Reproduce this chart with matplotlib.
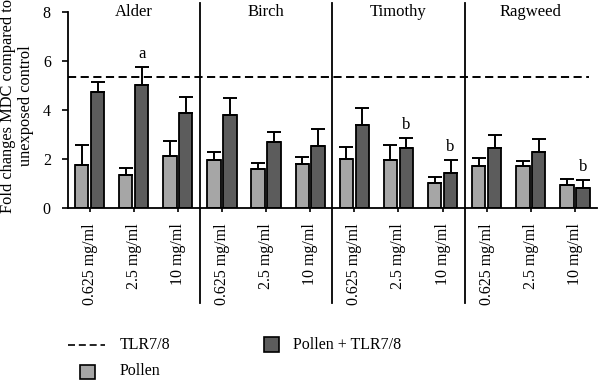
import matplotlib
matplotlib.use('Agg')
import matplotlib.pyplot as plt
import numpy as np
from matplotlib.patches import Rectangle
from matplotlib.lines import Line2D

plt.rcParams['font.family'] = ['Liberation Serif', 'DejaVu Serif']

# Данные
groups = ['Alder', 'Birch', 'Timothy', 'Ragweed']
doses = ['0.625 mg/ml', '2.5 mg/ml', '10 mg/ml']
pollen = [1.76, 1.32, 2.12, 1.93, 1.58, 1.77, 1.97, 1.93, 0.99, 1.71, 1.69, 0.91]
pollen_err = [0.80, 0.31, 0.60, 0.34, 0.24, 0.31, 0.49, 0.63, 0.26, 0.30, 0.23, 0.27]
pollen_tlr = [4.71, 4.99, 3.86, 3.80, 2.67, 2.52, 3.37, 2.42, 1.43, 2.45, 2.29, 0.82]
pollen_tlr_err = [0.42, 0.75, 0.66, 0.66, 0.42, 0.68, 0.68, 0.44, 0.53, 0.52, 0.51, 0.32]
tlr_level = 5.33
marks = {1: 'a', 7: 'b', 8: 'b', 11: 'b'}

light = '#a6a6a6'
dark = '#5c5c5c'
dash = (0, (4.2, 2.3))

fig = plt.figure(figsize=(6, 3.8), dpi=100)
ax = fig.add_axes([0.1125, 0.4534, 0.8825, 0.5158])

x = np.arange(len(pollen))
w = 0.305
off = 0.18

ax.bar(x - off, pollen, w, color=light, edgecolor='black', linewidth=1.3, zorder=2)
ax.bar(x + off, pollen_tlr, w, color=dark, edgecolor='black', linewidth=1.3, zorder=2)
ax.errorbar(x - off, pollen, yerr=[np.zeros(len(x)), pollen_err], fmt='none',
            ecolor='black', elinewidth=1.4, capsize=5, capthick=1.4, zorder=3)
ax.errorbar(x + off, pollen_tlr, yerr=[np.zeros(len(x)), pollen_tlr_err], fmt='none',
            ecolor='black', elinewidth=1.4, capsize=5, capthick=1.4, zorder=3)

# Буквы значимости
for i, m in marks.items():
    ax.text(x[i] + off, pollen_tlr[i] + pollen_tlr_err[i] + 0.2, m,
            ha='center', va='bottom', fontsize=12)

# Пунктир TLR7/8
ax.axhline(tlr_level, xmin=0, xmax=0.985, color='black', linestyle=dash,
           linewidth=1.4, zorder=1)

# Разделители групп
for s in [2.5, 5.5, 8.5]:
    ax.plot([s, s], [-3.9, 8.35], color='black', linewidth=1.3, clip_on=False, zorder=4)

# Названия групп
for g, name in enumerate(groups):
    ax.text(g * 3 + 1, 7.98, name, ha='center', va='center', fontsize=12)

ax.set_xlim(-0.5, 11.5)
ax.set_ylim(0, 8)
ax.set_yticks([0, 2, 4, 6, 8])
ax.set_xticks(x)
ax.set_xticklabels(doses * 4, rotation=90, fontsize=11.5)
ax.tick_params(axis='y', labelsize=11.5, length=4, width=1.2, direction='out', pad=8)
ax.tick_params(axis='x', length=3, width=1.2, direction='out', pad=8)
for side in ['top', 'right']:
    ax.spines[side].set_visible(False)
ax.spines['left'].set_linewidth(1.3)
ax.spines['bottom'].set_linewidth(1.3)

# Подпись оси Y
fig.text(17 / 600, 1 - 106 / 380, 'Fold changes MDC compared to\nunexposed control',
         rotation=90, ha='center', va='center', fontsize=11.8, linespacing=1.1)

# Легенда вручную
fig.add_artist(Line2D([68 / 600, 105 / 600], [1 - 345 / 380] * 2, color='black',
                      linestyle=dash, linewidth=1.2))
fig.text(120 / 600, 1 - 345 / 380, 'TLR7/8', fontsize=11.5, va='center')
fig.add_artist(Rectangle((264 / 600, 1 - 352 / 380), 15 / 600, 15 / 380,
                         facecolor=dark, edgecolor='black', linewidth=1.2))
fig.text(293 / 600, 1 - 345 / 380, 'Pollen + TLR7/8', fontsize=11.5, va='center')
fig.add_artist(Rectangle((80 / 600, 1 - 379 / 380), 15 / 600, 14 / 380,
                         facecolor=light, edgecolor='black', linewidth=1.2))
fig.text(120 / 600, 1 - 371 / 380, 'Pollen', fontsize=11.5, va='center')

plt.savefig('out.png', dpi=100)
